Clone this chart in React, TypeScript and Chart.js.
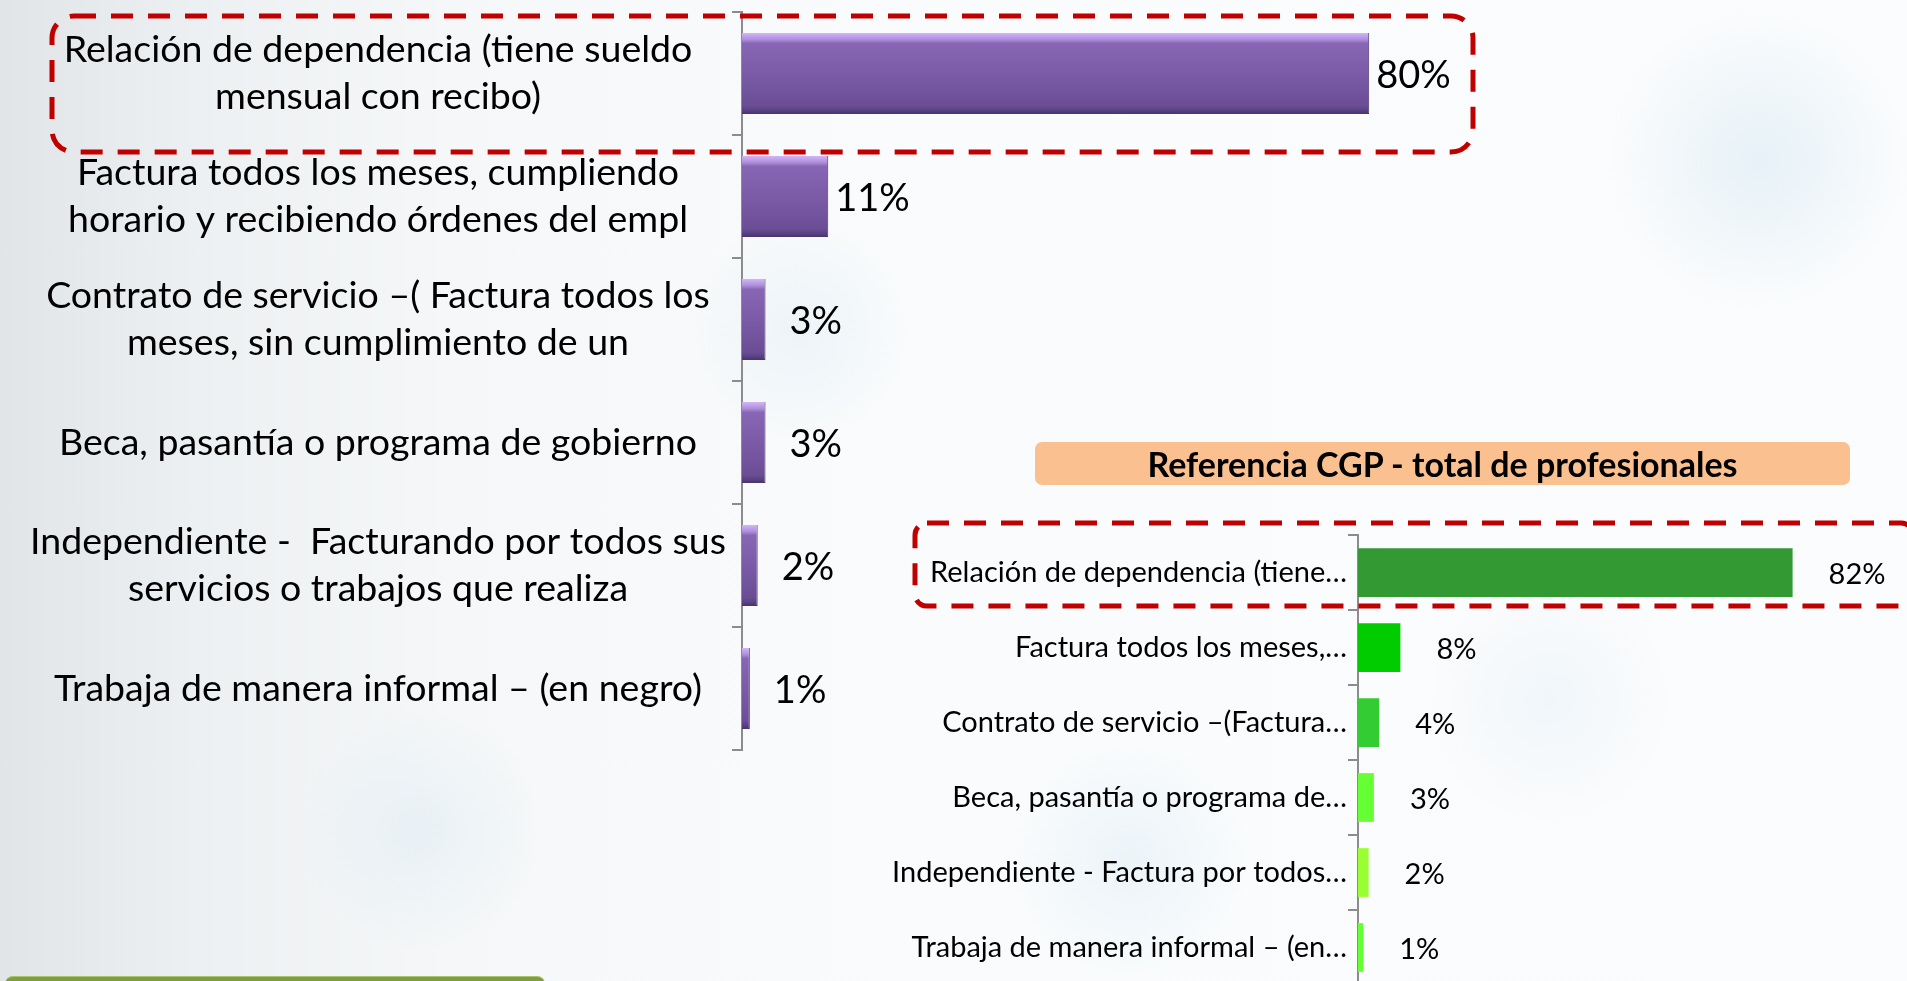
import React, { useEffect, useRef } from "react";
import { Chart, registerables } from "chart.js";

Chart.register(...registerables);

// ---------- data ----------
const mainCategories: (string | string[])[] = [
  ["Relación de dependencia (tiene sueldo", "mensual con recibo)"],
  ["Factura todos los meses, cumpliendo", "horario y recibiendo órdenes del empl"],
  ["Contrato de servicio –( Factura todos los", "meses, sin cumplimiento de un"],
  "Beca, pasantía o programa de gobierno",
  ["Independiente -  Facturando por todos sus", "servicios o trabajos que realiza"],
  "Trabaja de manera informal – (en negro)",
];
const mainValues = [80, 11, 3, 3, 2, 1];

const refTitle = "Referencia CGP - total de profesionales";
const refCategories = [
  "Relación de dependencia (tiene…",
  "Factura todos los meses,…",
  "Contrato de servicio –(Factura…",
  "Beca, pasantía o programa de…",
  "Independiente - Factura por todos…",
  "Trabaja de manera informal – (en…",
];
const refValues = [82, 8, 4, 3, 2, 1];
const refColors = ["#339933", "#00cc00", "#33cc33", "#66ff33", "#99ff33", "#66ff33"];

// ---------- styling ----------
const FONT = "Lato, 'Noto Sans', sans-serif";
const AXIS_GRAY = "#8c8c8c";
const MAIN_LABEL_SIZE = 37.5;
const MAIN_BAR_PCT = 0.66;

function makeValueLabels(id: string, font: string, gapFor: (v: number) => number) {
  return {
    id,
    afterDatasetsDraw(chart: any) {
      const ctx = chart.ctx;
      const meta = chart.getDatasetMeta(0);
      const data = chart.data.datasets[0].data as number[];
      ctx.save();
      ctx.font = font;
      ctx.fillStyle = "#000";
      ctx.textAlign = "left";
      ctx.textBaseline = "middle";
      meta.data.forEach((el: any, i: number) => {
        ctx.fillText(`${data[i]}%`, el.x + gapFor(data[i]), el.y + 2);
      });
      ctx.restore();
    },
  };
}

const purpleFill = (c: any) => {
  const chart = c.chart;
  const ys = chart.scales && chart.scales.y;
  if (!ys || c.dataIndex == null) return "#7c5ca8";
  const center = ys.getPixelForValue(c.dataIndex);
  const band = Math.abs(ys.getPixelForValue(1) - ys.getPixelForValue(0));
  const half = (band * MAIN_BAR_PCT) / 2;
  if (!isFinite(center) || !isFinite(half) || half <= 0) return "#7c5ca8";
  const g = chart.ctx.createLinearGradient(0, center - half, 0, center + half);
  g.addColorStop(0, "#d2b6f8");
  g.addColorStop(0.08, "#ae8fdc");
  g.addColorStop(0.13, "#8767b5");
  g.addColorStop(0.5, "#7b5ba7");
  g.addColorStop(0.9, "#6b4d95");
  g.addColorStop(0.96, "#574080");
  g.addColorStop(1, "#45316a");
  return g;
};

const noEdgePadding = (width: number) => (s: any) => {
  s.width = width;
  s.paddingTop = 0;
  s.paddingBottom = 0;
};

export default function App() {
  const leftRef = useRef<HTMLCanvasElement | null>(null);
  const rightRef = useRef<HTMLCanvasElement | null>(null);

  useEffect(() => {
    if (!leftRef.current || !rightRef.current) return;

    const mctx = document.createElement("canvas").getContext("2d")!;
    mctx.font = `${MAIN_LABEL_SIZE}px ${FONT}`;
    let widest = 0;
    mainCategories.forEach((l) => {
      (Array.isArray(l) ? l : [l]).forEach((s) => {
        widest = Math.max(widest, mctx.measureText(s).width);
      });
    });
    const axisX = 742;
    const tickLen = 10;
    const labelCenter = 378;
    const mainPadding = Math.max(0, axisX - tickLen - labelCenter - widest / 2);

    const left = new Chart(leftRef.current, {
      type: "bar",
      data: {
        labels: mainCategories as any,
        datasets: [
          {
            data: mainValues,
            backgroundColor: purpleFill as any,
            borderColor: "#4b3670",
            borderWidth: { top: 0, left: 0, right: 1, bottom: 1 } as any,
            barPercentage: MAIN_BAR_PCT,
            categoryPercentage: 1,
          },
        ],
      },
      options: {
        indexAxis: "y",
        responsive: false,
        maintainAspectRatio: false,
        animation: false,
        layout: { padding: { left: 0, top: 12, right: 34, bottom: 20 } },
        plugins: { legend: { display: false }, tooltip: { enabled: false } },
        scales: {
          x: { display: false, min: 0, max: 100 },
          y: {
            afterFit: noEdgePadding(axisX),
            grid: {
              drawOnChartArea: false,
              drawTicks: true,
              tickLength: tickLen,
              color: AXIS_GRAY,
              lineWidth: 2,
            },
            border: { display: true, color: AXIS_GRAY, width: 2 },
            ticks: {
              color: "#000",
              autoSkip: false,
              crossAlign: "center",
              padding: mainPadding,
              font: { family: FONT, size: MAIN_LABEL_SIZE, lineHeight: 1.27 },
            },
          },
        },
      },
      plugins: [makeValueLabels("mainLabels", `38px ${FONT}`, (v) => (v >= 10 ? 7 : 24))],
    });

    const right = new Chart(rightRef.current, {
      type: "bar",
      data: {
        labels: refCategories,
        datasets: [
          {
            data: refValues,
            backgroundColor: refColors,
            barPercentage: 0.65,
            categoryPercentage: 1,
          },
        ],
      },
      options: {
        indexAxis: "y",
        responsive: false,
        maintainAspectRatio: false,
        animation: false,
        layout: { padding: { left: 0, top: 15, right: 19, bottom: 5 } },
        plugins: { legend: { display: false }, tooltip: { enabled: false } },
        scales: {
          x: { display: false, min: 0, max: 100 },
          y: {
            afterFit: noEdgePadding(488),
            grid: {
              drawOnChartArea: false,
              drawTicks: true,
              tickLength: 10,
              color: AXIS_GRAY,
              lineWidth: 2,
            },
            border: { display: true, color: AXIS_GRAY, width: 2 },
            ticks: {
              color: "#000",
              autoSkip: false,
              padding: 1,
              font: { family: FONT, size: 29 },
            },
          },
        },
      },
      plugins: [makeValueLabels("refLabels", `29px ${FONT}`, () => 36)],
    });

    return () => {
      left.destroy();
      right.destroy();
    };
  }, []);

  const bg = [
    "radial-gradient(circle at 1760px 160px, rgba(205,228,240,0.45) 0px, rgba(205,228,240,0) 150px)",
    "radial-gradient(circle at 1130px 860px, rgba(210,230,242,0.35) 0px, rgba(210,230,242,0) 120px)",
    "radial-gradient(circle at 420px 830px, rgba(210,230,242,0.35) 0px, rgba(210,230,242,0) 120px)",
    "radial-gradient(circle at 800px 330px, rgba(210,230,242,0.3) 0px, rgba(210,230,242,0) 110px)",
    "radial-gradient(circle at 1550px 700px, rgba(210,230,242,0.25) 0px, rgba(210,230,242,0) 120px)",
    "linear-gradient(90deg, #e1e5e8 0px, #edf0f2 200px, #f5f7f8 450px, #f9fbfc 900px, #fbfcfd 1907px)",
  ].join(", ");

  return (
    <div
      style={{
        position: "fixed",
        left: 0,
        top: 0,
        width: 1907,
        height: 981,
        overflow: "hidden",
        background: bg,
        fontFamily: FONT,
      }}
    >
      <canvas
        ref={leftRef}
        width={1560}
        height={770}
        style={{ position: "absolute", left: 0, top: 0 }}
      />
      <div
        style={{
          position: "absolute",
          left: 1035,
          top: 442,
          width: 815,
          height: 43,
          background: "#fac090",
          borderRadius: 7,
          display: "flex",
          alignItems: "center",
          justifyContent: "center",
          fontWeight: 700,
          fontSize: 34,
          color: "#000",
          lineHeight: 1,
        }}
      >
        {refTitle}
      </div>
      <canvas
        ref={rightRef}
        width={1037}
        height={470}
        style={{ position: "absolute", left: 870, top: 520 }}
      />
      <svg
        width={1907}
        height={981}
        style={{ position: "absolute", left: 0, top: 0, pointerEvents: "none" }}
      >
        <rect
          x={52}
          y={16}
          width={1421}
          height={136}
          rx={22}
          ry={22}
          fill="none"
          stroke="#c00000"
          strokeWidth={5}
          strokeDasharray="22 15"
        />
        <rect
          x={915}
          y={523}
          width={998}
          height={83}
          rx={12}
          ry={12}
          fill="none"
          stroke="#c00000"
          strokeWidth={5}
          strokeDasharray="22 15"
        />
      </svg>
      <div
        style={{
          position: "absolute",
          left: 5,
          top: 976,
          width: 540,
          height: 30,
          background: "#7f9f3a",
          borderTop: "1px solid #a8c270",
          borderRadius: 8,
        }}
      />
    </div>
  );
}
